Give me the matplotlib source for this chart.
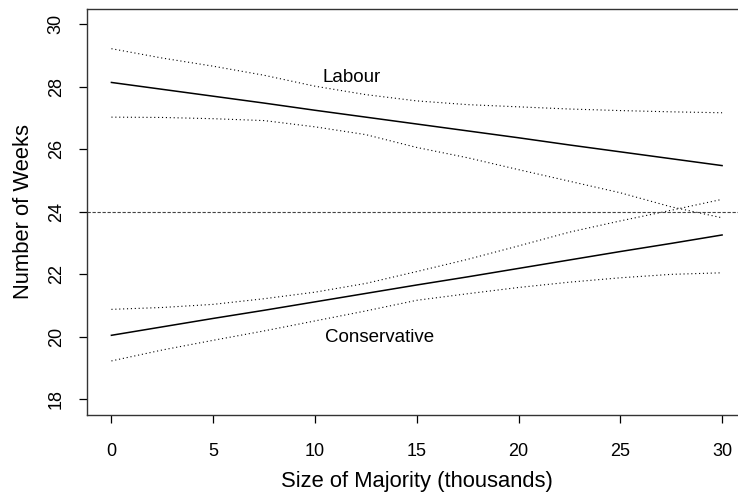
import matplotlib as mpl
import matplotlib.pyplot as plt
import numpy as np

mpl.rcParams["font.family"] = ["Liberation Sans", "DejaVu Sans"]

# ── DATA ────────────────────────────────────────────────────────────────────
majority = [0, 2.5, 5, 7.5, 10, 12.5, 15, 17.5, 20, 22.5, 25, 27.5, 30]

labour_fit   = [28.13, 27.91, 27.69, 27.47, 27.24, 27.02, 26.80,
                26.58, 26.36, 26.13, 25.91, 25.69, 25.47]
labour_upper = [29.21, 28.91, 28.65, 28.36, 28.01, 27.74, 27.54,
                27.42, 27.35, 27.28, 27.23, 27.19, 27.16]
labour_lower = [27.02, 27.01, 26.97, 26.91, 26.71, 26.46, 26.05,
                25.72, 25.34, 24.97, 24.60, 24.15, 23.80]

cons_fit   = [20.04, 20.31, 20.58, 20.84, 21.11, 21.38, 21.65,
              21.91, 22.18, 22.45, 22.72, 22.98, 23.25]
cons_upper = [20.87, 20.93, 21.03, 21.21, 21.42, 21.70, 22.08,
              22.47, 22.90, 23.34, 23.70, 24.04, 24.39]
cons_lower = [19.22, 19.57, 19.88, 20.18, 20.50, 20.82, 21.16,
              21.37, 21.57, 21.74, 21.88, 21.99, 22.04]

reference_weeks = 24
x_ticks = [0, 5, 10, 15, 20, 25, 30]
y_ticks = [18, 20, 22, 24, 26, 28, 30]

# ── PLOT ────────────────────────────────────────────────────────────────────
fig = plt.figure(figsize=(7.38, 4.96), dpi=100)
ax = fig.add_axes([87 / 738, 1 - 415 / 496, (746.5 - 87) / 738, (415 - 9) / 496])

dots = (0, (1, 2.5))
ax.plot(majority, labour_fit, color="black", lw=1.1)
ax.plot(majority, labour_upper, color="black", lw=0.8, ls=dots)
ax.plot(majority, labour_lower, color="black", lw=0.8, ls=dots)

ax.plot(majority, cons_fit, color="black", lw=1.1)
ax.plot(majority, cons_upper, color="black", lw=0.8, ls=dots)
ax.plot(majority, cons_lower, color="black", lw=0.8, ls=dots)

ax.axhline(reference_weeks, color="#444444", lw=0.8, ls=(0, (3, 1.5)))

ax.text(11.8, 28.14, "Labour", ha="center", va="baseline", fontsize=13.5)
ax.text(13.17, 19.82, "Conservative", ha="center", va="baseline", fontsize=13.5)

ax.set_xlim(-1.2, 31.2)
ax.set_ylim(17.49, 30.48)
ax.set_xticks(x_ticks)
ax.set_yticks(y_ticks)
ax.tick_params(direction="out", length=6, width=0.9, labelsize=13)
ax.tick_params(axis="x", pad=14)
ax.tick_params(axis="y", pad=10)
for lbl in ax.get_yticklabels():
    lbl.set_rotation(90)
    lbl.set_va("center")

for spine in ax.spines.values():
    spine.set_linewidth(1.0)
    spine.set_color("#333333")

ax.set_xlabel("Size of Majority (thousands)", fontsize=15.8, labelpad=8)
ax.set_ylabel("Number of Weeks", fontsize=15.8, labelpad=10)

fig.savefig("out.png", dpi=100, facecolor="white")
